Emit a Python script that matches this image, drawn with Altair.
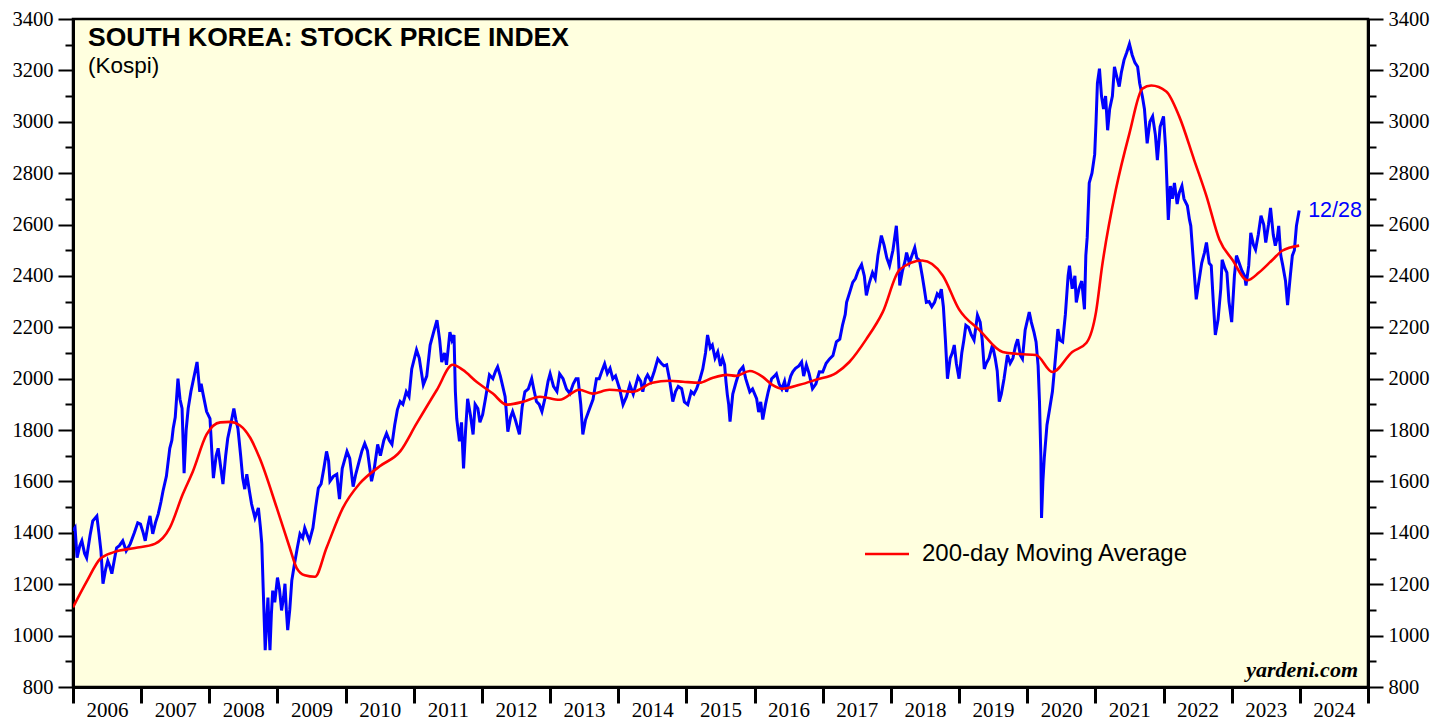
import altair as alt
import pandas as pd

# KOSPI (decimal year, index level)
kospi_t = [
    2006.00, 2006.03, 2006.06, 2006.10, 2006.13, 2006.17, 2006.20, 2006.25, 2006.29, 2006.35,
    2006.38, 2006.41, 2006.44, 2006.48, 2006.51, 2006.54, 2006.57, 2006.61, 2006.64, 2006.68,
    2006.73, 2006.78, 2006.84, 2006.90, 2006.95, 2006.99,
    2007.03, 2007.06, 2007.10, 2007.13, 2007.17, 2007.21, 2007.25, 2007.29, 2007.32, 2007.37,
    2007.42, 2007.45, 2007.47, 2007.50, 2007.54, 2007.57, 2007.60, 2007.63, 2007.66, 2007.69,
    2007.73, 2007.76, 2007.82, 2007.86, 2007.88, 2007.91, 2007.96, 2008.01,
    2008.04, 2008.06, 2008.10, 2008.13, 2008.17, 2008.20, 2008.24, 2008.27, 2008.32, 2008.36,
    2008.39, 2008.42, 2008.46, 2008.49, 2008.52, 2008.55, 2008.59, 2008.62, 2008.67, 2008.72,
    2008.75, 2008.77, 2008.79, 2008.82, 2008.84, 2008.86, 2008.88, 2008.89, 2008.91, 2008.93,
    2008.96, 2009.00,
    2009.03, 2009.06, 2009.09, 2009.11, 2009.13, 2009.15, 2009.18, 2009.21, 2009.25, 2009.29,
    2009.33, 2009.37, 2009.40, 2009.44, 2009.47, 2009.52, 2009.56, 2009.60, 2009.64, 2009.68,
    2009.72, 2009.75, 2009.77, 2009.82, 2009.87, 2009.91, 2009.95, 2010.02,
    2010.06, 2010.11, 2010.15, 2010.20, 2010.24, 2010.28, 2010.32, 2010.38, 2010.42, 2010.47,
    2010.51, 2010.56, 2010.60, 2010.64, 2010.68, 2010.72, 2010.76, 2010.80, 2010.84, 2010.89,
    2010.93, 2010.97, 2011.04,
    2011.08, 2011.14, 2011.19, 2011.24, 2011.29, 2011.34, 2011.38, 2011.41, 2011.45, 2011.48,
    2011.53, 2011.56, 2011.59, 2011.61, 2011.63, 2011.65, 2011.67, 2011.70, 2011.73, 2011.76,
    2011.79, 2011.83, 2011.87, 2011.90, 2011.94, 2011.97, 2012.01,
    2012.05, 2012.11, 2012.16, 2012.20, 2012.23, 2012.27, 2012.30, 2012.34, 2012.38, 2012.42,
    2012.45, 2012.49, 2012.55, 2012.59, 2012.63, 2012.68, 2012.73, 2012.76, 2012.80, 2012.84,
    2012.88, 2012.93, 2012.97, 2013.00,
    2013.05, 2013.10, 2013.14, 2013.19, 2013.24, 2013.29, 2013.34, 2013.38, 2013.41, 2013.45,
    2013.48, 2013.52, 2013.58, 2013.63, 2013.68, 2013.72, 2013.76, 2013.80, 2013.84, 2013.88,
    2013.92, 2013.96,
    2014.02, 2014.07, 2014.12, 2014.17, 2014.22, 2014.29, 2014.33, 2014.36, 2014.40, 2014.43,
    2014.48, 2014.53, 2014.58, 2014.63, 2014.67, 2014.71, 2014.75, 2014.80, 2014.84, 2014.88,
    2014.93, 2014.97, 2015.02,
    2015.07, 2015.11, 2015.15, 2015.20, 2015.24, 2015.28, 2015.31, 2015.35, 2015.38, 2015.42,
    2015.46, 2015.50, 2015.53, 2015.56, 2015.58, 2015.60, 2015.62, 2015.64, 2015.68, 2015.73,
    2015.78, 2015.83, 2015.87, 2015.93, 2015.97, 2016.03,
    2016.06, 2016.09, 2016.12, 2016.16, 2016.20, 2016.25, 2016.29, 2016.32, 2016.36, 2016.40,
    2016.44, 2016.47, 2016.50, 2016.53, 2016.56, 2016.60, 2016.65, 2016.69, 2016.72, 2016.76,
    2016.80, 2016.85, 2016.90, 2016.95,
    2017.00, 2017.05, 2017.10, 2017.15, 2017.20, 2017.25, 2017.29, 2017.33, 2017.35, 2017.40,
    2017.44, 2017.48, 2017.52, 2017.57, 2017.61, 2017.64, 2017.68, 2017.73, 2017.77, 2017.81,
    2017.86, 2017.90, 2017.94, 2017.98, 2018.03, 2018.08,
    2018.11, 2018.13, 2018.17, 2018.21, 2018.23, 2018.27, 2018.31, 2018.35, 2018.38, 2018.42,
    2018.46, 2018.49, 2018.52, 2018.56, 2018.60, 2018.64, 2018.68, 2018.71, 2018.74, 2018.77,
    2018.80, 2018.83, 2018.87, 2018.90, 2018.93, 2018.96, 2019.00,
    2019.04, 2019.07, 2019.10, 2019.14, 2019.18, 2019.22, 2019.27, 2019.31, 2019.34, 2019.37,
    2019.40, 2019.44, 2019.49, 2019.53, 2019.56, 2019.59, 2019.62, 2019.66, 2019.71, 2019.75,
    2019.79, 2019.83, 2019.86, 2019.90, 2019.93, 2019.97, 2020.03,
    2020.06, 2020.10, 2020.13, 2020.16, 2020.18, 2020.20, 2020.21, 2020.23, 2020.25, 2020.29,
    2020.33, 2020.37, 2020.40, 2020.43, 2020.45, 2020.48, 2020.52, 2020.56, 2020.60, 2020.62,
    2020.66, 2020.70, 2020.72, 2020.76, 2020.80, 2020.84, 2020.86, 2020.88, 2020.91, 2020.95,
    2020.99,
    2021.01, 2021.03, 2021.06, 2021.09, 2021.12, 2021.15, 2021.18, 2021.21, 2021.25, 2021.28,
    2021.31, 2021.35, 2021.38, 2021.42, 2021.46, 2021.50, 2021.54, 2021.58, 2021.62, 2021.65,
    2021.69, 2021.72, 2021.76, 2021.80, 2021.84, 2021.88, 2021.91, 2021.95, 2022.00,
    2022.03, 2022.07, 2022.10, 2022.13, 2022.16, 2022.20, 2022.23, 2022.27, 2022.30, 2022.35,
    2022.38, 2022.40, 2022.44, 2022.48, 2022.52, 2022.56, 2022.60, 2022.63, 2022.67, 2022.70,
    2022.73, 2022.76, 2022.80, 2022.84, 2022.86, 2022.90, 2022.93, 2022.96, 2023.00,
    2023.04, 2023.07, 2023.11, 2023.15, 2023.19, 2023.21, 2023.25, 2023.28, 2023.32, 2023.35,
    2023.39, 2023.43, 2023.47, 2023.50, 2023.54, 2023.57, 2023.61, 2023.64, 2023.67, 2023.69,
    2023.72, 2023.75, 2023.79, 2023.82, 2023.86, 2023.89, 2023.92, 2023.95, 2023.99,
]
kospi_v = [
    1408, 1420, 1303, 1350, 1369, 1320, 1303, 1390, 1446, 1465,
    1400, 1330, 1202, 1260, 1291, 1270, 1241, 1300, 1342, 1350,
    1369, 1330, 1357, 1400, 1439, 1434,
    1400, 1369, 1430, 1466, 1396, 1440, 1473, 1520, 1562, 1620,
    1729, 1760, 1806, 1850, 2000, 1920, 1884, 1632, 1800, 1884,
    1950, 1988, 2065, 1949, 1980, 1938, 1872, 1845,
    1700, 1613, 1700, 1729, 1650, 1590, 1700, 1767, 1830, 1884,
    1840, 1806, 1700, 1613, 1570, 1628, 1560, 1512, 1458, 1497,
    1420, 1357, 1187, 943, 1050, 1148, 1000, 943, 1080, 1175,
    1130, 1226,
    1180, 1098, 1150, 1202, 1100, 1021, 1100, 1214, 1280, 1340,
    1396, 1380, 1419, 1390, 1369, 1419, 1500, 1574, 1590, 1650,
    1717, 1680, 1601, 1620, 1628, 1531, 1650, 1717,
    1690, 1580, 1630, 1680, 1720, 1748, 1720, 1601, 1650, 1744,
    1700, 1760, 1787, 1760, 1744, 1820, 1880, 1911, 1900, 1949,
    1930, 2038, 2112,
    2080, 1976, 2010, 2131, 2180, 2228, 2150, 2065, 2100, 2054,
    2181, 2150, 2170, 1950, 1845, 1800, 1756, 1830, 1651, 1800,
    1922, 1860, 1783, 1900, 1884, 1830, 1860,
    1920, 2015, 2000, 2030, 2046, 2010, 1976, 1930, 1794, 1850,
    1872, 1840, 1783, 1890, 1949, 1960, 2000, 1960, 1911, 1900,
    1872, 1930, 1990, 2019,
    1970, 1950, 2019, 2000, 1960, 1942, 1980, 2000, 2000, 1900,
    1783, 1840, 1884, 1920, 2000, 2000, 2030, 2058, 2020, 2040,
    2000, 2011,
    1960, 1899, 1930, 1976, 1940, 2007, 1990, 1949, 2000, 2015,
    1990, 2030, 2077, 2060, 2050, 2054, 2000, 1911, 1950, 1970,
    1961, 1910, 1899,
    1950, 1940, 1961, 2000, 2038, 2100, 2170, 2120, 2131, 2080,
    2104, 2050, 2080, 2054, 1990, 1938, 1900, 1833, 1940, 1988,
    2030, 2046, 2000, 1949, 1960, 1922,
    1870, 1910, 1841, 1900, 1949, 2000, 2010, 2019, 1980, 1960,
    1990, 1949, 1980, 2010, 2027, 2040, 2050, 2065, 2010, 2054,
    2020, 1961, 1980, 2027,
    2026, 2060, 2077, 2090, 2143, 2154, 2208, 2250, 2297, 2340,
    2375, 2390, 2420, 2444, 2400, 2324, 2370, 2413, 2390, 2480,
    2557, 2520, 2470, 2440, 2500, 2595,
    2480, 2363, 2420, 2460, 2491, 2450, 2480, 2510, 2470, 2460,
    2400, 2350, 2297, 2300, 2280, 2297, 2330, 2320, 2348, 2280,
    2150, 2000, 2080, 2100, 2131, 2060, 2000,
    2100, 2150, 2208, 2200, 2170, 2150, 2247, 2220, 2150, 2038,
    2060, 2080, 2131, 2080, 2030, 1911, 1940, 2000, 2092, 2060,
    2080, 2130, 2154, 2090, 2077, 2190, 2259,
    2220, 2180, 2143, 2050, 1911, 1700, 1458, 1600, 1690, 1820,
    1884, 1950, 2038, 2130, 2193, 2150, 2143, 2250, 2400, 2440,
    2350, 2400, 2297, 2350, 2380, 2270, 2479, 2550, 2762, 2800,
    2873,
    3000, 3150, 3207, 3100, 3050, 3100, 2967, 3050, 3100, 3214,
    3180, 3137, 3190, 3240, 3270, 3303, 3260, 3230, 3214, 3150,
    3098, 3050, 2916, 3000, 3021, 2950, 2851, 2980, 3021,
    2900, 2618, 2750, 2700, 2762, 2680, 2723, 2750, 2700, 2673,
    2620, 2595, 2450, 2309, 2380, 2450, 2490, 2530, 2450, 2440,
    2300, 2170, 2230, 2350, 2463, 2430, 2413, 2300, 2220,
    2400, 2479, 2450, 2420, 2400, 2363, 2440, 2568, 2520, 2502,
    2560, 2634, 2600, 2530, 2600, 2665, 2560, 2518, 2550, 2595,
    2480, 2440, 2380, 2286, 2400, 2479, 2500, 2595, 2655,
]

# 200-day moving average
ma_t = [
    2006.00, 2006.20, 2006.40, 2006.60, 2006.91, 2007.20, 2007.42, 2007.61, 2007.76, 2007.96,
    2008.16, 2008.30, 2008.45, 2008.60, 2008.74, 2008.99, 2009.18, 2009.28, 2009.40, 2009.55,
    2009.72, 2009.96, 2010.20, 2010.50, 2010.80, 2011.04, 2011.34, 2011.57, 2011.72, 2011.92,
    2012.16, 2012.36, 2012.60, 2012.85, 2013.14, 2013.43, 2013.62, 2013.87, 2014.21, 2014.50,
    2014.75, 2014.95, 2015.19, 2015.38, 2015.59, 2015.73, 2015.93, 2016.12, 2016.26, 2016.41,
    2016.66, 2016.90, 2017.20, 2017.39, 2017.64, 2017.88, 2018.13, 2018.46, 2018.76, 2019.00,
    2019.30, 2019.64, 2019.89, 2020.13, 2020.37, 2020.66, 2020.87, 2021.01, 2021.10, 2021.30,
    2021.50, 2021.69, 2021.82, 2022.04, 2022.23, 2022.45, 2022.63, 2022.82, 2023.01, 2023.23,
    2023.40, 2023.60, 2023.74, 2023.99,
]
ma_v = [
    1110, 1210, 1299, 1325, 1341, 1357, 1419, 1550, 1640, 1783,
    1830, 1832, 1818, 1770, 1690, 1497, 1342, 1264, 1235, 1229,
    1342, 1497, 1590, 1659, 1717, 1825, 1957, 2054, 2034, 1988,
    1942, 1899, 1910, 1930, 1918, 1957, 1942, 1957, 1949, 1984,
    1992, 1988, 1984, 2003, 2015, 2011, 2030, 2007, 1976, 1961,
    1976, 1996, 2023, 2065, 2154, 2259, 2425, 2460, 2402, 2270,
    2189, 2104, 2096, 2092, 2026, 2104, 2140, 2260, 2440, 2735,
    2955, 3129, 3141, 3118, 3021, 2851, 2711, 2541, 2463, 2383,
    2413, 2463, 2498, 2518,
]

year_ticks = list(range(2006, 2026))
y_ticks = list(range(800, 3401, 100))
last_label = ["12/28"]

BG = "#FFFFDF"

df_k = pd.DataFrame({"t": kospi_t, "v": kospi_v})
df_ma = pd.DataFrame({"t": ma_t, "v": ma_v})
df_last = pd.DataFrame({"t": [kospi_t[-1]], "v": [kospi_v[-1]], "lab": last_label})
one = pd.DataFrame({"a": [0]})

xscale = alt.Scale(domain=[2006, 2025], nice=False, zero=False)
yscale = alt.Scale(domain=[800, 3400], nice=False, zero=False)

xaxis = alt.Axis(
    values=year_ticks, format="d", title=None, grid=False,
    labelExpr="datum.value < 2025 ? datum.label : ''",
    labelOffset=34, labelFlush=False, labelOverlap=False, labelBound=False,
    tickSize=16, tickWidth=3, tickColor="black",
    domainColor="black", domainWidth=3,
    labelFont="Liberation Serif", labelFontSize=21, labelColor="black",
    labelPadding=-4,
)


def yaxis(orient):
    return alt.Axis(
        orient=orient, values=y_ticks, format="d", title=None, grid=False,
        labelExpr="datum.value % 200 == 0 ? datum.label : ''",
        labelFlush=False, labelOverlap=False, labelBound=False,
        tickSize={"condition": {"test": "datum.value % 200 == 0", "value": 15}, "value": 8},
        tickWidth=2, tickColor="black",
        domainColor="black", domainWidth=3,
        labelFont="Liberation Serif", labelFontSize=20.5, labelColor="black",
        labelPadding=5,
    )


blue = alt.Chart(df_k).mark_line(color="#0000FF", strokeWidth=3, clip=True).encode(
    x=alt.X("t:Q", scale=xscale, axis=xaxis),
    y=alt.Y("v:Q", scale=yscale, axis=yaxis("left")),
)

red = alt.Chart(df_ma).mark_line(color="#FF0000", strokeWidth=2.6, interpolate="monotone", clip=True).encode(
    x=alt.X("t:Q", scale=xscale, axis=xaxis),
    y=alt.Y("v:Q", scale=yscale, axis=yaxis("right")),
)

last_txt = alt.Chart(df_last).mark_text(
    align="left", baseline="middle", dx=9, dy=1, color="#0000FF",
    font="Liberation Sans", fontSize=21.5,
).encode(
    x=alt.X("t:Q", scale=xscale, axis=xaxis),
    y=alt.Y("v:Q", scale=yscale, axis=None),
    text="lab:N",
)

title = alt.Chart(one).mark_text(
    text="SOUTH KOREA: STOCK PRICE INDEX", align="left", baseline="alphabetic",
    font="Liberation Sans", fontSize=26.5, fontWeight="bold", color="black",
).encode(x=alt.value(15), y=alt.value(27))

subtitle = alt.Chart(one).mark_text(
    text="(Kospi)", align="left", baseline="alphabetic",
    font="Liberation Sans", fontSize=22.5, color="black",
).encode(x=alt.value(15), y=alt.value(54))

leg_line = alt.Chart(one).mark_rule(color="#FF0000", strokeWidth=2.6).encode(
    x=alt.value(792), x2=alt.value(836), y=alt.value(535)
)
leg_text = alt.Chart(one).mark_text(
    text="200-day Moving Average", align="left", baseline="middle",
    font="Liberation Sans", fontSize=24, color="black",
).encode(x=alt.value(849), y=alt.value(535))

credit = alt.Chart(one).mark_text(
    text="yardeni.com", align="right", baseline="alphabetic",
    font="Liberation Serif", fontSize=22, fontWeight="bold", fontStyle="italic", color="black",
).encode(x=alt.value(1285), y=alt.value(658))

chart = alt.layer(
    blue, red, last_txt, title, subtitle, leg_line, leg_text, credit
).resolve_scale(y="shared").resolve_axis(y="independent").properties(
    width=1295, height=668,
    autosize=alt.AutoSizeParams(type="none"),
    padding={"left": 65, "top": 11, "right": 75, "bottom": 33},
    view=alt.ViewBackground(fill=BG, stroke="black", strokeWidth=2.5),
).configure_view(
    fill=BG, stroke="black", strokeWidth=2.5
).configure(background="white")

chart.save("out.html", embed_options={"renderer": "svg", "actions": False})
